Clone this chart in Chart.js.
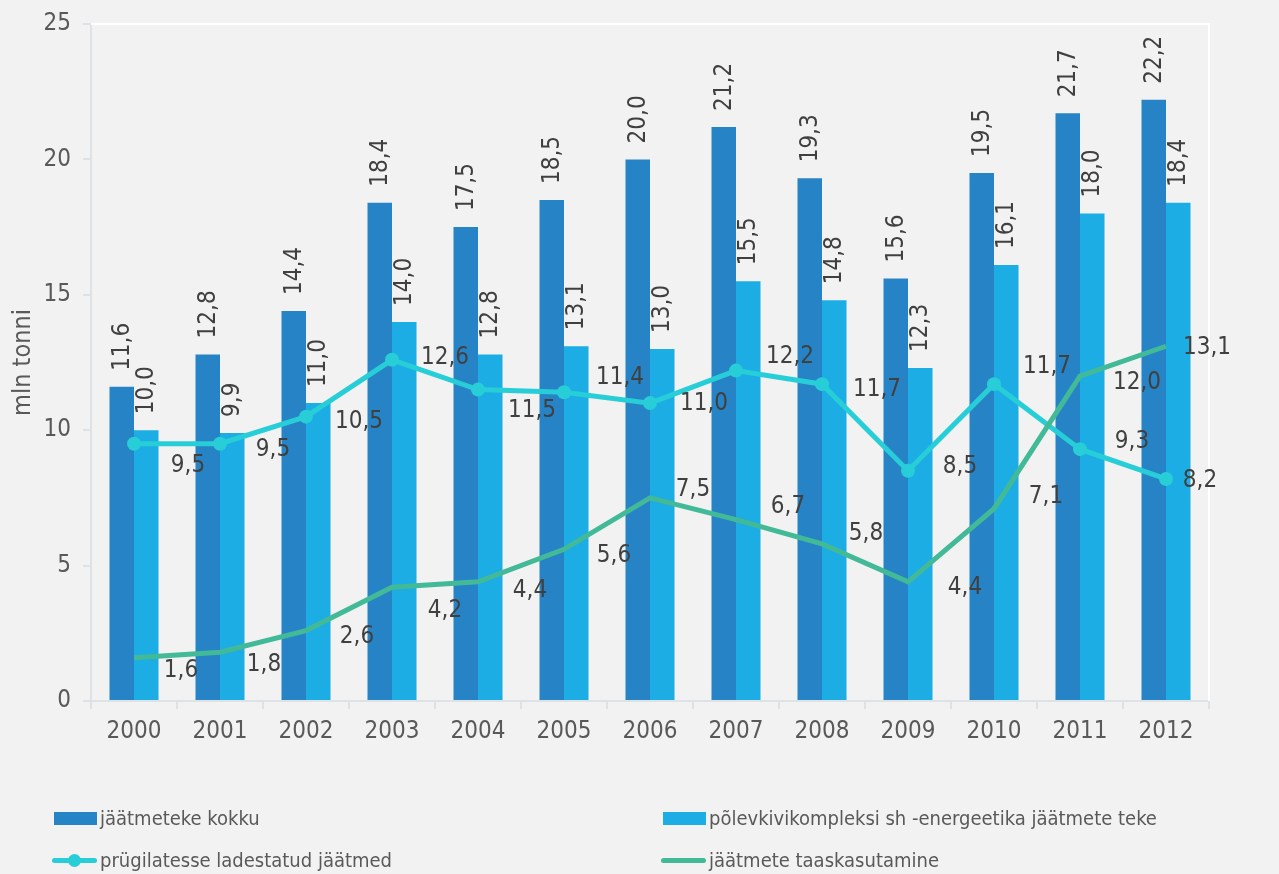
<!DOCTYPE html>
<html>
<head>
<meta charset="utf-8">
<script src="https://cdn.jsdelivr.net/npm/chart.js@4/dist/chart.umd.min.js"></script>
<style>
  html, body { margin: 0; padding: 0; background: #f2f2f2; }
  #wrap { position: relative; width: 1279px; height: 874px; }
  #legend { position: absolute; left: 0; top: 0; width: 1279px; height: 874px; pointer-events: none;
            font-family: 'DejaVu Sans Condensed', 'DejaVu Sans', sans-serif; font-size: 20px; color: #595959; }
  .item { position: absolute; display: flex; align-items: center; height: 26px; white-space: nowrap; }
  .mark { position: relative; width: 44px; height: 26px; margin-right: 4px; }
  .mark .box { position: absolute; left: 0; top: 7px; width: 43px; height: 13px; }
  .mark .ln { position: absolute; left: 0; top: 11px; width: 45px; height: 5px; border-radius: 3px; }
  .mark .dot { position: absolute; left: 16px; top: 7px; width: 13px; height: 13px; border-radius: 50%; }
</style>
</head>
<body>
<div id="wrap">
  <canvas id="chart" width="1279" height="874"></canvas>
  <div id="legend"></div>
</div>
<script>
const years = ['2000', '2001', '2002', '2003', '2004', '2005', '2006', '2007', '2008', '2009', '2010', '2011', '2012'];
const totalWaste = [11.6, 12.8, 14.4, 18.4, 17.5, 18.5, 20.0, 21.2, 19.3, 15.6, 19.5, 21.7, 22.2];
const oilShaleWaste = [10.0, 9.9, 11.0, 14.0, 12.8, 13.1, 13.0, 15.5, 14.8, 12.3, 16.1, 18.0, 18.4];
const landfilled = [9.5, 9.5, 10.5, 12.6, 11.5, 11.4, 11.0, 12.2, 11.7, 8.5, 11.7, 9.3, 8.2];
const recovered = [1.6, 1.8, 2.6, 4.2, 4.4, 5.6, 7.5, 6.7, 5.8, 4.4, 7.1, 12.0, 13.1];
const yTicks = [0, 5, 10, 15, 20, 25];

const FONT = "'DejaVu Sans Condensed', 'DejaVu Sans', sans-serif";
const fmt = v => v.toFixed(1).replace('.', ',');

// value labels: rotated above bars, nudged beside line points
const valueLabels = {
    id: 'valueLabels',
    afterDatasetsDraw(chart) {
        const ctx = chart.ctx;
        ctx.save();
        ctx.fillStyle = '#404040';
        ctx.font = '24px ' + FONT;
        chart.data.datasets.forEach((ds, i) => {
            const meta = chart.getDatasetMeta(i);
            meta.data.forEach((el, j) => {
                const text = fmt(ds.data[j]);
                if (meta.type === 'bar') {
                    ctx.save();
                    ctx.translate(el.x + 1, el.y - 16);
                    ctx.rotate(-Math.PI / 2);
                    ctx.textAlign = 'left';
                    ctx.textBaseline = 'middle';
                    ctx.fillText(text, 0, 0);
                    ctx.restore();
                } else {
                    const off = ds.labelOffsets[j];
                    ctx.textAlign = 'center';
                    ctx.textBaseline = 'middle';
                    ctx.fillText(text, el.x + off[0], el.y + off[1]);
                }
            });
        });
        ctx.restore();
    }
};

// white frame on top and right of plot area
const plotFrame = {
    id: 'plotFrame',
    beforeDatasetsDraw(chart) {
        const { ctx, chartArea: a } = chart;
        ctx.save();
        ctx.strokeStyle = '#ffffff';
        ctx.lineWidth = 2;
        ctx.beginPath();
        ctx.moveTo(a.left, a.top);
        ctx.lineTo(a.right, a.top);
        ctx.lineTo(a.right, a.bottom);
        ctx.stroke();
        ctx.restore();
    }
};

const chart = new Chart(document.getElementById('chart'), {
    data: {
        labels: years,
        datasets: [
            {
                type: 'bar',
                label: 'jäätmeteke kokku',
                data: totalWaste,
                backgroundColor: '#2683c6',
                borderWidth: 0,
                categoryPercentage: 0.57,
                barPercentage: 1,
                order: 2
            },
            {
                type: 'bar',
                label: 'põlevkivikompleksi sh -energeetika jäätmete teke',
                data: oilShaleWaste,
                backgroundColor: '#1cade4',
                borderWidth: 0,
                categoryPercentage: 0.57,
                barPercentage: 1,
                order: 2
            },
            {
                type: 'line',
                label: 'prügilatesse ladestatud jäätmed',
                data: landfilled,
                borderColor: '#27ced7',
                backgroundColor: '#27ced7',
                borderWidth: 5,
                pointRadius: 7,
                pointBorderWidth: 0,
                pointBackgroundColor: '#27ced7',
                tension: 0,
                order: 1,
                labelOffsets: [[54, 22], [53, 6], [53, 5], [53, -2], [54, 21], [56, -15], [54, 1],
                               [54, -14], [55, 6], [52, -4], [53, -17], [52, -7], [34, 2]]
            },
            {
                type: 'line',
                label: 'jäätmete taaskasutamine',
                data: recovered,
                borderColor: '#42ba97',
                backgroundColor: '#42ba97',
                borderWidth: 5,
                pointRadius: 0,
                tension: 0,
                order: 0,
                labelOffsets: [[47, 13], [44, 13], [51, 6], [53, 24], [52, 9], [50, 6], [43, -8],
                               [52, -13], [44, -10], [57, 6], [52, -12], [57, 7], [41, 2]]
            }
        ]
    },
    options: {
        responsive: false,
        animation: false,
        layout: { padding: { left: 0, right: 70, top: 24, bottom: 0 } },
        plugins: { legend: { display: false }, tooltip: { enabled: false } },
        scales: {
            x: {
                offset: true,
                grid: { display: true, offset: true, drawOnChartArea: false, tickLength: 8, color: '#dde2e6', lineWidth: 2 },
                border: { display: true, color: '#dde2e6', width: 2 },
                ticks: { color: '#595959', font: { family: FONT, size: 24 }, padding: 8 },
                afterFit(scale) { scale.height = 173; }
            },
            y: {
                min: 0,
                max: 25,
                afterBuildTicks(scale) { scale.ticks = yTicks.map(v => ({ value: v })); },
                grid: { display: true, drawOnChartArea: false, tickLength: 8, color: '#dde2e6', lineWidth: 2 },
                border: { display: true, color: '#dde2e6', width: 2 },
                ticks: { color: '#595959', font: { family: FONT, size: 24, lineHeight: 1 }, padding: 12 },
                title: { display: true, text: 'mln tonni', color: '#595959', font: { family: FONT, size: 25 }, padding: { top: 8, bottom: 0 } },
                afterFit(scale) { scale.width = 91; scale.paddingTop = 0; }
            }
        }
    },
    plugins: [plotFrame, valueLabels]
});

// legend built from the chart datasets, two columns
const legendBox = document.getElementById('legend');
const cols = [52, 661];
const rows = [805, 847];
chart.data.datasets.forEach((ds, i) => {
    const item = document.createElement('div');
    item.className = 'item';
    item.style.left = cols[i % 2] + 'px';
    item.style.top = rows[Math.floor(i / 2)] + 'px';
    const mark = document.createElement('div');
    mark.className = 'mark';
    if (ds.type === 'bar') {
        mark.innerHTML = '<div class="box" style="left:2px;background:' + ds.backgroundColor + '"></div>';
    } else {
        mark.innerHTML = '<div class="ln" style="background:' + ds.borderColor + '"></div>' +
            (ds.pointRadius ? '<div class="dot" style="background:' + ds.borderColor + '"></div>' : '');
    }
    const txt = document.createElement('span');
    txt.textContent = ds.label;
    item.appendChild(mark);
    item.appendChild(txt);
    legendBox.appendChild(item);
});
</script>
</body>
</html>
